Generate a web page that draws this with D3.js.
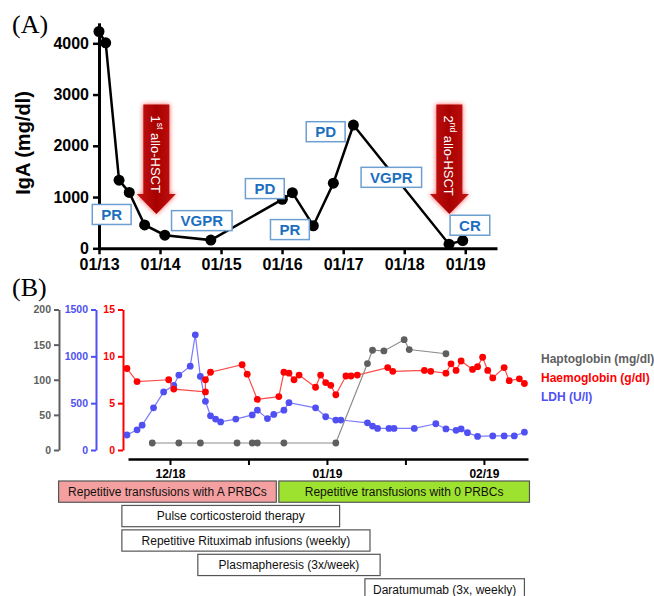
<!DOCTYPE html>
<html>
<head>
<meta charset="utf-8">
<script src="https://cdn.jsdelivr.net/npm/d3@7"></script>
<style>
  body { margin: 0; background: #fff; }
  svg { display: block; font-family: Arial, "Liberation Sans", sans-serif; }
</style>
</head>
<body>
<svg id="chart" width="654" height="596"></svg>
<script>
// ---------- data : panel A (IgA course) ----------
const igaDates = ["2013-01-01", "2013-02-10", "2013-05-01", "2013-07-01", "2013-10-01", "2014-01-30", "2014-11-01",
  "2016-01-03", "2016-03-03", "2016-07-06", "2016-11-03", "2017-03-03", "2018-09-26", "2018-12-17"];
const igaValues = [4230, 4010, 1330, 1090, 455, 255, 160, 955, 1085, 440, 1270, 2405, 80, 150];
const yearTicks = ["2013-01-01", "2014-01-01", "2015-01-01", "2016-01-01", "2017-01-01", "2018-01-01", "2019-01-01"];

// response labels (anchored at date / IgA value)
const respLabels = ["PR", "VGPR", "PD", "PR", "PD", "VGPR", "CR"];
const respDates = ["2013-03-18", "2014-09-08", "2015-09-20", "2016-02-17", "2016-09-18", "2017-10-16", "2019-01-29"];
const respValues = [660, 540, 1165, 365, 2275, 1385, 450];

// allo-HSCT events
const hsctNums = ["1", "2"];
const hsctSup = ["st", "nd"];
const hsctDates = ["2013-12-10", "2018-09-28"];

// ---------- data : panel B (haemolysis markers) ----------
const hbDates = ["2018-11-22 12:00", "2018-11-24 12:00", "2018-11-30 18:00", "2018-12-01 18:00", "2018-12-08 00:00",
  "2018-12-08 00:00", "2018-12-09 00:00", "2018-12-15 06:00", "2018-12-16 06:00", "2018-12-18 06:00",
  "2018-12-22 12:00", "2018-12-23 12:00", "2018-12-24 12:00", "2018-12-25 12:00", "2018-12-26 12:00",
  "2018-12-29 18:00", "2018-12-30 18:00", "2018-12-31 18:00", "2019-01-01 18:00", "2019-01-02 18:00",
  "2019-01-04 18:00", "2019-01-05 18:00", "2019-01-07 00:00", "2019-01-13 00:00", "2019-01-14 00:00",
  "2019-01-20 06:00", "2019-01-21 12:00", "2019-01-24 12:00", "2019-01-25 12:00", "2019-01-26 12:00",
  "2019-01-27 12:00", "2019-01-29 18:00", "2019-01-30 18:00", "2019-01-31 18:00", "2019-02-01 18:00",
  "2019-02-02 18:00", "2019-02-05 00:00", "2019-02-06 00:00", "2019-02-08 00:00", "2019-02-09 00:00"];
const hbValues = [8.7, 7.3, 7.5, 6.5, 6.2, 7.5, 8.3, 9.1, 8.1, 5.4, 5.7, 8.3, 8.2, 7.5, 8.0, 6.7, 8.0, 7.2, 6.9, 5.9,
  7.9, 7.9, 8.0, 8.8, 8.4, 8.5, 8.4, 8.2, 9.2, 8.5, 9.5, 8.6, 8.9, 9.9, 8.5, 7.7, 8.8, 7.4, 7.6, 7.1];

const ldhDates = ["2018-11-22 12:00", "2018-11-24 12:00", "2018-11-25 12:00", "2018-11-27 18:00", "2018-11-29 18:00",
  "2018-12-01 18:00", "2018-12-02 18:00", "2018-12-05 00:00", "2018-12-06 00:00", "2018-12-07 00:00",
  "2018-12-08 00:00", "2018-12-09 00:00", "2018-12-10 00:00", "2018-12-11 00:00", "2018-12-14 00:00",
  "2018-12-17 06:00", "2018-12-18 06:00", "2018-12-20 06:00", "2018-12-21 12:00", "2018-12-23 12:00",
  "2018-12-24 12:00", "2018-12-29 18:00", "2018-12-31 18:00", "2019-01-02 18:00", "2019-01-03 18:00",
  "2019-01-09 00:00", "2019-01-10 00:00", "2019-01-11 00:00", "2019-01-13 06:00", "2019-01-14 06:00",
  "2019-01-18 06:00", "2019-01-22 12:00", "2019-01-24 12:00", "2019-01-26 12:00", "2019-01-27 12:00",
  "2019-01-28 18:00", "2019-01-30 18:00", "2019-02-02 18:00", "2019-02-05 00:00", "2019-02-07 00:00",
  "2019-02-09 00:00"];
const ldhValues = [160, 215, 265, 450, 620, 690, 800, 895, 1230, 785, 520, 365, 330, 300, 330, 375, 425, 335, 380, 425,
  505, 450, 355, 320, 320, 290, 255, 230, 230, 230, 230, 280, 225, 210, 225, 185, 145, 150, 150, 150, 190];

const hpDates = ["2018-11-27 12:00", "2018-12-02 18:00", "2018-12-07 00:00", "2018-12-14 06:00", "2018-12-17 06:00",
  "2018-12-18 06:00", "2018-12-23 12:00", "2019-01-02 18:00", "2019-01-09 00:00", "2019-01-10 00:00",
  "2019-01-12 06:00", "2019-01-16 06:00", "2019-01-17 06:00", "2019-01-24 12:00"];
const hpValues = [10, 10, 10, 10, 10, 10, 10, 10, 123, 142, 141, 157, 143, 137];

const monthTicks = ["2018-12-01 00:00", "2018-12-16 12:00", "2019-01-01 00:00", "2019-01-16 12:00", "2019-02-01 00:00"];

// treatments (bars under panel B)
const txLabels = ["Repetitive transfusions with A PRBCs", "Repetitive transfusions with 0 PRBCs",
  "Pulse corticosteroid therapy", "Repetitive Rituximab infusions (weekly)", "Plasmapheresis (3x/week)",
  "Daratumumab (3x, weekly)"];
const txStart = ["2018-11-09 00:00", "2018-12-22 12:00", "2018-11-21 12:00", "2018-11-21 12:00", "2018-12-06 12:00", "2019-01-08 12:00"];
const txEnd = ["2018-12-22 00:00", "2019-02-10 00:00", "2019-01-03 12:00", "2019-01-09 12:00", "2019-01-11 12:00", "2019-02-09 00:00"];
const txRow = [0, 0, 1, 2, 3, 4];

const parseDay = d3.timeParse("%Y-%m-%d");
const parseHour = d3.timeParse("%Y-%m-%d %H:%M");
const svg = d3.select("#chart");

// ================= Panel A =================
const xA = d3.scaleTime().domain([parseDay("2013-01-01"), parseDay("2019-07-10")]).range([99, 497]);
const yA = d3.scaleLinear().domain([0, 4400]).range([248.3, 22.8]);

svg.append("text").attr("x", 12).attr("y", 33)
  .style("font-family", "'Liberation Serif', 'Times New Roman', serif").style("font-size", "26px").text("(A)");

const gxA = svg.append("g").attr("transform", "translate(0,248.3)")
  .call(d3.axisBottom(xA).tickValues(yearTicks.map(parseDay)).tickFormat(d3.timeFormat("%m/%y"))
    .tickSize(6).tickSizeOuter(0).tickPadding(4));
const gyA = svg.append("g").attr("transform", "translate(99,0)")
  .call(d3.axisLeft(yA).tickValues([0, 1000, 2000, 3000, 4000]).tickFormat(d3.format("d"))
    .tickSize(6).tickSizeOuter(0).tickPadding(4));
[gxA, gyA].forEach(g => {
  g.select(".domain").attr("stroke", "#000").attr("stroke-width", 3);
  g.selectAll(".tick line").attr("stroke", "#000").attr("stroke-width", 2.5);
  g.selectAll(".tick text").attr("fill", "#000").style("font-size", "16px").style("font-weight", "bold");
});

svg.append("text").attr("transform", "translate(30,143) rotate(-90)").attr("text-anchor", "middle")
  .style("font-size", "20px").style("font-weight", "bold").text("IgA (mg/dl)");

// arrows for allo-HSCT
const defs = svg.append("defs");
defs.append("filter").attr("id", "glow").attr("x", "-50%").attr("y", "-50%").attr("width", "200%").attr("height", "200%")
  .append("feGaussianBlur").attr("stdDeviation", 2.6);
const grad = defs.append("linearGradient").attr("id", "arrowGrad").attr("x1", 0).attr("x2", 1).attr("y1", 0).attr("y2", 0);
grad.append("stop").attr("offset", "0%").attr("stop-color", "#c41414");
grad.append("stop").attr("offset", "50%").attr("stop-color", "#a80000");
grad.append("stop").attr("offset", "100%").attr("stop-color", "#c41414");

hsctDates.forEach((d, i) => {
  const cx = xA(parseDay(d));
  const top = 104.5, neck = 194, tip = 214, bw = 13, hw = 19.5;
  const pts = [[cx - bw, top], [cx + bw, top], [cx + bw, neck], [cx + hw, neck], [cx, tip], [cx - hw, neck], [cx - bw, neck]];
  const g = svg.append("g");
  g.append("polygon").attr("points", pts.join(" ")).attr("fill", "#ff3030").attr("opacity", 0.85)
    .attr("filter", "url(#glow)");
  g.append("polygon").attr("points", pts.join(" ")).attr("fill", "url(#arrowGrad)");
  const t = g.append("text").attr("transform", `translate(${cx},${top + 11}) rotate(90)`)
    .attr("dominant-baseline", "central").attr("fill", "#fff").style("font-size", "13px");
  t.append("tspan").text(hsctNums[i]);
  t.append("tspan").attr("dy", -4).style("font-size", "8.5px").text(hsctSup[i]);
  t.append("tspan").attr("dy", 4).text(" allo-HSCT");
});

// IgA line + dots
const igaPts = igaDates.map((d, i) => [parseDay(d), igaValues[i]]);
svg.append("path").datum(igaPts).attr("fill", "none").attr("stroke", "#000").attr("stroke-width", 2.5)
  .attr("d", d3.line().x(p => xA(p[0])).y(p => yA(p[1])));
svg.append("g").selectAll("circle").data(igaPts).join("circle")
  .attr("cx", p => xA(p[0])).attr("cy", p => yA(p[1])).attr("r", 5.5).attr("fill", "#000");

// response boxes
respLabels.forEach((lab, i) => {
  const cx = xA(parseDay(respDates[i])), cy = yA(respValues[i]);
  const g = svg.append("g");
  const r = g.append("rect");
  const t = g.append("text").attr("x", cx).attr("y", cy + 5.5).attr("text-anchor", "middle")
    .attr("fill", "#1c6fbf").style("font-size", "15px").style("font-weight", "bold").text(lab);
  const w = t.node().getComputedTextLength() + 18;
  r.attr("x", cx - w / 2).attr("y", cy - 10).attr("width", w).attr("height", 20)
    .attr("fill", "#fff").attr("stroke", "#6d9fd0").attr("stroke-width", 1.5);
});

// ================= Panel B =================
svg.append("text").attr("x", 12).attr("y", 296)
  .style("font-family", "'Liberation Serif', 'Times New Roman', serif").style("font-size", "26px").text("(B)");

const xB = d3.scaleTime().domain([parseHour("2018-11-22 17:00"), parseHour("2019-02-09 17:00")]).range([128, 528]);
const yHb = d3.scaleLinear().domain([0, 15]).range([450, 309.5]);
const yLdh = d3.scaleLinear().domain([0, 1500]).range([450, 309.5]);
const yHp = d3.scaleLinear().domain([0, 200]).range([450, 309.5]);

const colHp = "#5f5f5f", colHb = "#ff0000", colLdh = "#5050f2";
const yAxes = [
  { scale: yHp, x: 59, color: colHp, ticks: [0, 50, 100, 150, 200] },
  { scale: yLdh, x: 96, color: colLdh, ticks: [0, 500, 1000, 1500] },
  { scale: yHb, x: 123, color: colHb, ticks: [0, 5, 10, 15] }
];
yAxes.forEach(a => {
  const g = svg.append("g").attr("transform", `translate(${a.x},0)`)
    .call(d3.axisLeft(a.scale).tickValues(a.ticks).tickFormat(d3.format("d"))
      .tickSize(5).tickSizeOuter(0).tickPadding(3));
  g.select(".domain").attr("stroke", a.color).attr("stroke-width", 2);
  g.selectAll(".tick line").attr("stroke", a.color).attr("stroke-width", 2);
  g.selectAll(".tick text").attr("fill", a.color).style("font-size", "10.5px").style("font-weight", "bold");
});

const gxB = svg.append("g").attr("transform", "translate(0,459)")
  .call(d3.axisBottom(xB).tickValues(monthTicks.map(parseHour))
    .tickFormat(d => d.getDate() === 1 ? d3.timeFormat("%m/%y")(d) : "")
    .tickSize(6).tickSizeOuter(0).tickPadding(4));
gxB.select(".domain").attr("stroke", "#000").attr("stroke-width", 2.5);
gxB.selectAll(".tick line").attr("stroke", "#000").attr("stroke-width", 2);
gxB.selectAll(".tick text").attr("fill", "#000").style("font-size", "12px").style("font-weight", "bold");

const series = [
  { dates: ldhDates, values: ldhValues, y: yLdh, dot: colLdh, line: "#7b7bff" },
  { dates: hbDates, values: hbValues, y: yHb, dot: colHb, line: "#ff4a4a" },
  { dates: hpDates, values: hpValues, y: yHp, dot: colHp, line: "#8c8c8c" }
];
series.forEach(s => {
  const pts = s.dates.map((d, i) => [parseHour(d), s.values[i]]);
  svg.append("path").datum(pts).attr("fill", "none").attr("stroke", s.line).attr("stroke-width", 1.2)
    .attr("d", d3.line().x(p => xB(p[0])).y(p => s.y(p[1])));
  svg.append("g").selectAll("circle").data(pts).join("circle")
    .attr("cx", p => xB(p[0])).attr("cy", p => s.y(p[1])).attr("r", 3.4).attr("fill", s.dot);
});

// legend
const legendNames = ["Haptoglobin (mg/dl)", "Haemoglobin (g/dl)", "LDH (U/l)"];
const legendColors = [colHp, colHb, colLdh];
legendNames.forEach((n, i) => {
  svg.append("text").attr("x", 541).attr("y", 362.5 + i * 19.2).attr("fill", legendColors[i])
    .style("font-size", "12px").style("font-weight", "bold").text(n);
});

// treatment bars
const txFills = ["#f4a0a0", "#9de22e", "#fff", "#fff", "#fff", "#fff"];
const rowY = d3.scaleBand().domain(d3.range(5)).range([481, 600]).paddingInner(0.13);
txLabels.forEach((lab, i) => {
  const x0 = xB(parseHour(txStart[i])), x1 = xB(parseHour(txEnd[i]));
  const y0 = rowY(txRow[i]);
  svg.append("rect").attr("x", x0).attr("y", y0).attr("width", x1 - x0).attr("height", rowY.bandwidth())
    .attr("fill", txFills[i]).attr("stroke", "#555").attr("stroke-width", 1.2);
  svg.append("text").attr("x", (x0 + x1) / 2).attr("y", y0 + rowY.bandwidth() / 2 + 4.3)
    .attr("text-anchor", "middle").attr("fill", "#111").style("font-size", "12px").text(lab);
});
</script>
</body>
</html>
